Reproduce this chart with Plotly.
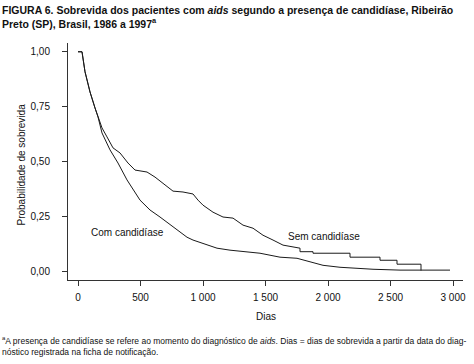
import plotly.graph_objects as go

# Kaplan-Meier curves (days, survival probability)
sem_dias = [0, 32, 56, 96, 136, 160, 176, 192, 232, 256, 280, 336, 400, 456, 552, 616, 712, 760,
            840, 920, 960, 1000, 1080, 1160, 1240, 1320, 1400, 1480, 1560, 1640, 1776, 1776, 1880,
            1880, 2176, 2176, 2416, 2416, 2552, 2552, 2744, 2744]
sem_prob = [1.0, 1.0, 0.909, 0.817, 0.744, 0.703, 0.685, 0.653, 0.612, 0.584, 0.562, 0.539, 0.493,
            0.461, 0.452, 0.429, 0.384, 0.365, 0.361, 0.352, 0.324, 0.301, 0.269, 0.247, 0.242,
            0.210, 0.196, 0.164, 0.142, 0.119, 0.105, 0.089, 0.089, 0.082, 0.082, 0.064, 0.064,
            0.050, 0.050, 0.032, 0.032, 0.003]

com_dias = [0, 32, 56, 96, 136, 160, 192, 232, 256, 320, 392, 496, 576, 656, 760, 872, 920, 1000,
            1112, 1216, 1352, 1456, 1616, 1752, 1960, 2096, 2360, 2576, 2976]
com_prob = [1.0, 1.0, 0.909, 0.817, 0.744, 0.703, 0.630, 0.584, 0.553, 0.493, 0.416, 0.324, 0.279,
            0.247, 0.201, 0.155, 0.142, 0.128, 0.105, 0.096, 0.087, 0.082, 0.064, 0.059, 0.027,
            0.018, 0.009, 0.005, 0.005]

x_ticks = [0, 500, 1000, 1500, 2000, 2500, 3000]
x_tick_labels = ["0", "500", "1 000", "1 500", "2 000", "2 500", "3 000"]
y_ticks = [0, 0.25, 0.5, 0.75, 1.0]
y_tick_labels = ["0,00", "0,25", "0,50", "0,75", "1,00"]

FONT = "Liberation Sans, Arial, Helvetica, sans-serif"
LINE = "#1a1a1a"
AX = "#333333"
TXT = "#111111"

# plot area in page pixels
L, R, T, B = 68, 463, 43, 280
W, H = R - L, B - T


def px(x):
    return (x - L) / W


def py(y):
    return (B - y) / H


fig = go.Figure()
fig.add_trace(go.Scatter(x=sem_dias, y=sem_prob, mode="lines",
                         line=dict(color=LINE, width=1), name="Sem candidíase"))
fig.add_trace(go.Scatter(x=com_dias, y=com_prob, mode="lines",
                         line=dict(color=LINE, width=1), name="Com candidíase"))

fig.add_annotation(x=392, y=0.178, text="Com candidíase", showarrow=False,
                   font=dict(family=FONT, size=10, color=TXT))
fig.add_annotation(x=1968, y=0.160, text="Sem candidíase", showarrow=False,
                   font=dict(family=FONT, size=10, color=TXT))

# title
fig.add_annotation(xref="paper", yref="paper", x=px(0), y=py(2),
                   xanchor="left", yanchor="top", align="left", showarrow=False,
                   text="<b>FIGURA 6. Sobrevida dos pacientes com <i>aids</i> segundo a presença de candidíase, Ribeirão<br>"
                        "Preto (SP), Brasil, 1986 a 1997<sup>a</sup></b>",
                   font=dict(family=FONT, size=10.5, color=TXT))
# y-axis title
fig.add_annotation(xref="paper", yref="paper", x=px(13), y=py(165),
                   text="Probabilidade de sobrevida", textangle=-90, showarrow=False,
                   font=dict(family=FONT, size=10, color=TXT))
# x-axis title
fig.add_annotation(xref="paper", yref="paper", x=0.5, y=py(316),
                   text="Dias", showarrow=False, yanchor="middle",
                   font=dict(family=FONT, size=10, color=TXT))
# footnote
fig.add_annotation(xref="paper", yref="paper", x=px(0), y=py(333),
                   xanchor="left", yanchor="top", align="left", showarrow=False,
                   text="<sup>a</sup>A presença de candidíase se refere ao momento do diagnóstico de <i>aids</i>. "
                        "Dias = dias de sobrevida a partir da data do diag-<br>nóstico registrada na ficha de notificação.",
                   font=dict(family=FONT, size=8.5, color=TXT))

fig.update_layout(
    width=474, height=364,
    margin=dict(l=L, r=474 - R, t=T, b=364 - B, autoexpand=False),
    paper_bgcolor="white", plot_bgcolor="white",
    showlegend=False,
    font=dict(family=FONT, size=10, color=TXT),
    xaxis=dict(range=[-80, 3080], tickvals=x_ticks, ticktext=x_tick_labels,
               showline=True, linecolor=AX, linewidth=1, ticks="outside", ticklen=5,
               tickcolor=AX, showgrid=False, zeroline=False, ticklabelstandoff=3,
               automargin=False, tickfont=dict(family=FONT, size=10, color=TXT)),
    yaxis=dict(range=[-0.04, 1.04], tickvals=y_ticks, ticktext=y_tick_labels,
               showline=True, linecolor=AX, linewidth=1, ticks="outside", ticklen=5,
               tickcolor=AX, showgrid=False, zeroline=False, ticklabelstandoff=10,
               automargin=False, tickfont=dict(family=FONT, size=10, color=TXT)),
)

fig.write_html("out.html", config={"displayModeBar": False},
               post_script="document.body.style.margin='0';document.body.style.overflow='hidden';")
